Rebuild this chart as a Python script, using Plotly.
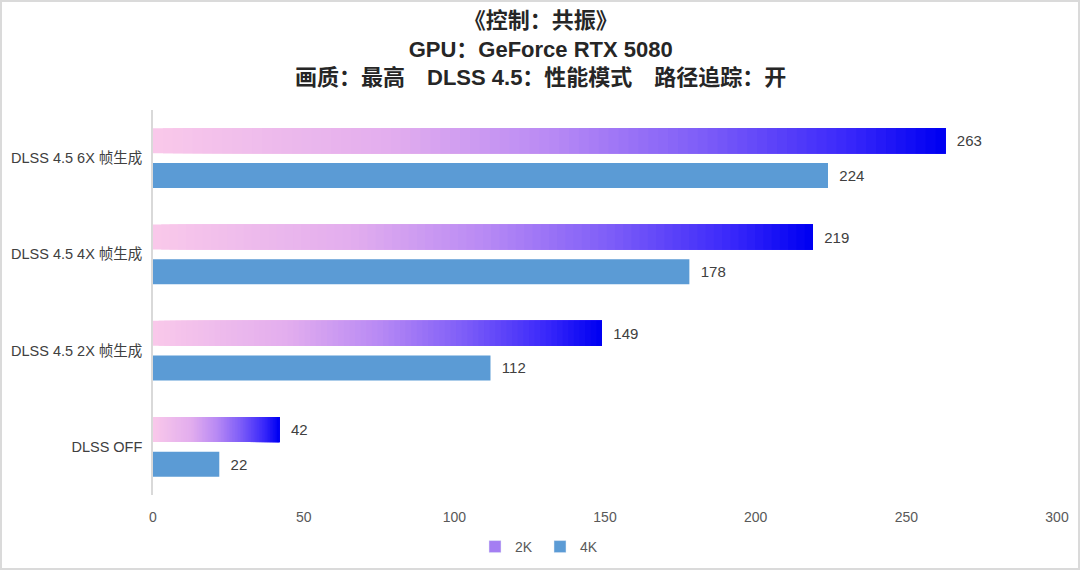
import plotly.graph_objects as go
from plotly.colors import sample_colorscale

# data
categorias = ["DLSS OFF", "DLSS 4.5 2X 帧生成", "DLSS 4.5 4X 帧生成", "DLSS 4.5 6X 帧生成"]
fps_2k = [42, 149, 219, 263]
fps_4k = [22, 112, 178, 224]
ticks_x = [0, 50, 100, 150, 200, 250, 300]

titulo = ("<b>《控制：共振》</b><br><b>GPU：GeForce RTX 5080</b><br>"
          "<b>画质：最高　DLSS 4.5：性能模式　路径追踪：开</b>")

# degradado rosa -> azul para 2K
escala = [[0, "#f9c8ea"], [0.3, "#e2adee"], [0.5, "#b98af4"],
          [0.7, "#7c5cf8"], [0.88, "#3a28fa"], [1, "#0000f2"]]
N = 80
colores = sample_colorscale(escala, [i / (N - 1) for i in range(N)])

fig = go.Figure()

# cada segmento va de v*i/N hasta v, el siguiente lo tapa -> sin costuras
for i in range(N):
    ultimo = i == N - 1
    fig.add_trace(go.Bar(
        y=categorias,
        x=[v * (N - i) / N for v in fps_2k],
        base=[v * i / N for v in fps_2k],
        orientation="h",
        marker=dict(color=colores[i], line=dict(width=0)),
        offset=0.05, width=0.26,
        text=["\u00a0\u00a0" + str(v) for v in fps_2k] if ultimo else None,
        textposition="outside" if ultimo else "none",
        textfont=dict(size=15, color="#404040"),
        cliponaxis=False,
        showlegend=False,
        hoverinfo="skip",
    ))

fig.add_trace(go.Bar(
    y=categorias, x=fps_4k, orientation="h",
    marker=dict(color="#5b9bd5", line=dict(width=0)),
    offset=-0.31, width=0.26,
    text=["\u00a0\u00a0" + str(v) for v in fps_4k], textposition="outside",
    textfont=dict(size=15, color="#404040"),
    cliponaxis=False, showlegend=False,
))

# entradas de leyenda
fig.add_trace(go.Bar(y=[None], x=[None], orientation="h", name="2K",
                     marker=dict(color="#a47ef2")))
fig.add_trace(go.Bar(y=[None], x=[None], orientation="h", name="4K",
                     marker=dict(color="#5b9bd5")))

fig.update_layout(
    width=1080, height=570,
    margin=dict(l=153, r=23, t=110, b=75, autoexpand=False),
    paper_bgcolor="white", plot_bgcolor="white",
    barmode="overlay",
    font=dict(family="Liberation Sans, Noto Sans CJK SC, sans-serif", color="#404040"),
    xaxis=dict(range=[0, 300], tickvals=ticks_x, showgrid=False, zeroline=False,
               showline=False, ticks="", ticklabelstandoff=12,
               tickfont=dict(size=14, color="#595959")),
    yaxis=dict(type="category", range=[-0.5, 3.5], showgrid=False, zeroline=False,
               showline=True, linecolor="#d9d9d9", linewidth=1.5, ticks="",
               ticklabelstandoff=6, tickfont=dict(size=14.5, color="#404040")),
    legend=dict(orientation="h", x=387 / 904, xanchor="center", y=-0.135, yanchor="middle",
                font=dict(size=14, color="#595959"), itemwidth=30,
                entrywidth=20, traceorder="normal"),
    annotations=[dict(text=titulo, xref="paper", yref="paper",
                      x=387 / 904, xanchor="center", y=(495 - 49) / 385, yanchor="middle",
                      showarrow=False, font=dict(size=22, color="#262626"))],
    shapes=[dict(type="rect", xref="paper", yref="paper",
                 x0=-152 / 904, x1=926 / 904, y0=-74 / 385, y1=494 / 385,
                 line=dict(color="#dadada", width=2))],
)

fig.write_html("out.html", config={"displayModeBar": False},
               post_script="document.body.style.margin='0';")
